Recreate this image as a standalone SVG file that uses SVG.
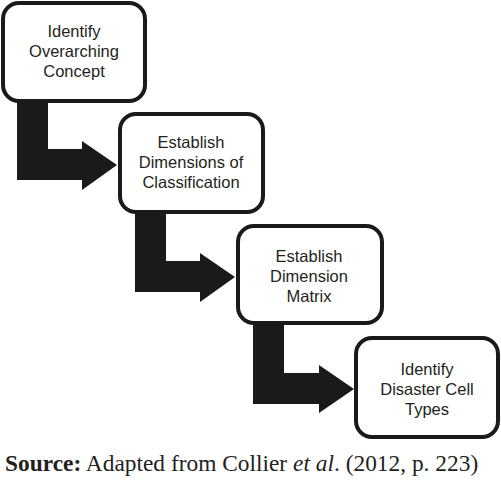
<svg xmlns="http://www.w3.org/2000/svg" width="501" height="482" viewBox="0 0 501 482">
<defs>
<style>
.box{fill:#fff;stroke:#1a1a1a;stroke-width:4}
.lbl{font-family:"Liberation Sans",Arial,sans-serif;font-size:16.5px;fill:#231f20;text-anchor:middle}
.arr{fill:#1a1a1a}
.src{font-family:"Liberation Serif","Times New Roman",serif;font-size:23.4px;fill:#231f20}
</style>
</defs>
<rect width="501" height="482" fill="#fff"/>
<g id="connectors">
<path class="arr" d="M17,99 H48 V149 H82 V141 L117,165 L82,190 V180 H17 Z"/>
<path class="arr" d="M135,210 H166 V261 H200 V253 L235,277 L200,302 V292 H135 Z"/>
<path class="arr" d="M253,321 H284 V373 H319 V365 L354,389 L319,413 V404 H253 Z"/>
</g>
<g id="node1">
<rect class="box" x="3" y="3" width="142" height="98" rx="16"/>
<text class="lbl" x="74" y="37">Identify</text>
<text class="lbl" x="74" y="57">Overarching</text>
<text class="lbl" x="74" y="77">Concept</text>
</g>
<g id="node2">
<rect class="box" x="120" y="114" width="143" height="98" rx="16"/>
<text class="lbl" x="191" y="148">Establish</text>
<text class="lbl" x="191" y="168">Dimensions of</text>
<text class="lbl" x="191" y="188">Classification</text>
</g>
<g id="node3">
<rect class="box" x="238" y="226" width="144" height="97" rx="16"/>
<text class="lbl" x="309" y="262">Establish</text>
<text class="lbl" x="309" y="282">Dimension</text>
<text class="lbl" x="309" y="302">Matrix</text>
</g>
<g id="node4">
<rect class="box" x="356" y="338" width="142" height="99" rx="16"/>
<text class="lbl" x="427" y="375">Identify</text>
<text class="lbl" x="427" y="395">Disaster Cell</text>
<text class="lbl" x="427" y="415">Types</text>
</g>
<text class="src" x="5" y="471"><tspan font-weight="bold">Source:</tspan> Adapted from Collier <tspan font-style="italic">et al</tspan>. (2012, p. 223)</text>
</svg>
